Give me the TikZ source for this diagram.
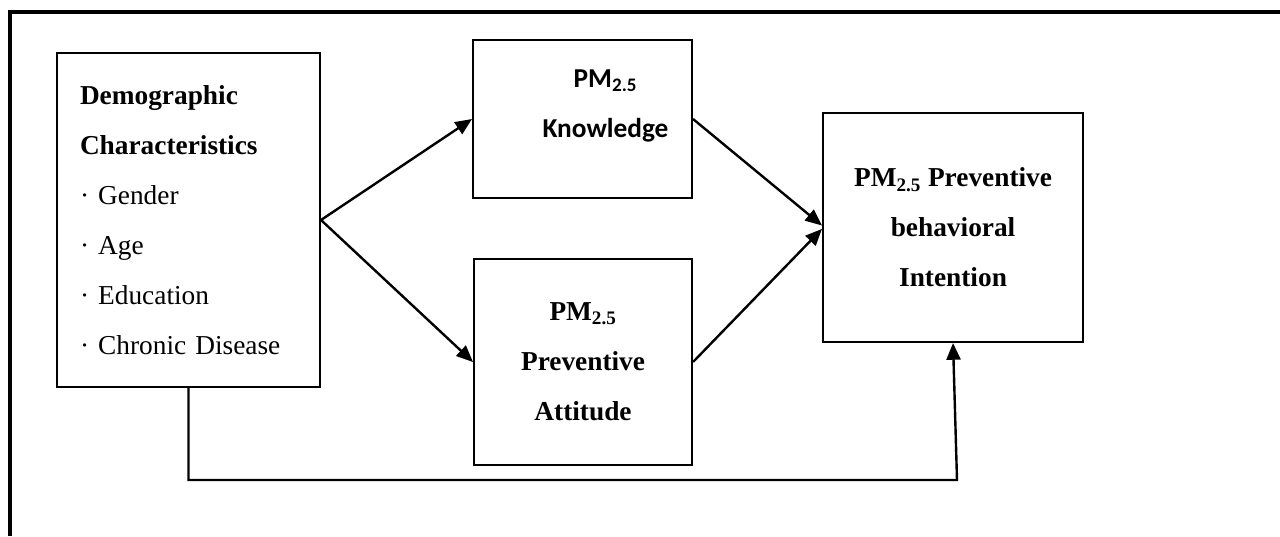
\documentclass[tikz,border=0pt]{standalone}
\usepackage{fontspec}
\setmainfont{Liberation Serif}
\newfontfamily\calibri{Carlito}
\usetikzlibrary{arrows.meta, positioning}

\begin{document}
\begin{tikzpicture}[x=0.75pt,y=-0.75pt,on grid,>={Triangle[length=12.5pt,width=10.5pt]},
      box/.style={draw,line width=1.5pt,inner sep=0pt,align=center,
        font=\fontsize{20.5}{37.5}\selectfont\bfseries},
      % every edge/.style={draw,line width=1.4pt},
      conn/.style={line width=1.8pt}]
  \useasboundingbox (0,0) rectangle (1280,536);
  \draw[line width=2.6pt] (10,536) -- (10,12) -- (1280,12);
  \node[box, minimum width=197.25pt, minimum height=250.5pt, text width=162.75pt,
        align=left, inner xsep=17.25pt] (demo) at (188.5,220)
        {Demographic\\Characteristics\\{\mdseries · Gender}\\{\mdseries · Age}\\
         {\mdseries · Education}\\{\mdseries · Chronic Disease}};
  \node[box, minimum width=164.25pt, minimum height=118.5pt] (know)
        [above right=75.75pt and 295.5pt of demo] {};
  \node[font=\calibri\bfseries\fontsize{20.5}{37.5}\selectfont, align=center] (know text)
        at ([xshift=17.25pt,yshift=9.9pt]know.center) {PM\textsubscript{2.5}\\Knowledge};
  \node[box, minimum width=163.5pt, minimum height=154.5pt] (att)
        [below right=106.5pt and 295.9pt of demo] {PM\textsubscript{2.5}\\Preventive\\Attitude};
  \node[box, minimum width=195pt, minimum height=171.75pt] (intent)
        [below right=81.4pt and 277.9pt of know] {PM\textsubscript{2.5} Preventive\\behavioral\\Intention};
  \coordinate (turn) at (957,480);
  \path[->, conn]
    (demo.east) edge (know.west)
    (demo.east) edge (att.west)
    (know.east) edge ([yshift=1.5pt]intent.west)
    (att.east) edge ([yshift=-1pt]intent.west);
  \draw[->, conn] (demo.south) |- (turn) -- (intent.south);
\end{tikzpicture}
\end{document}
